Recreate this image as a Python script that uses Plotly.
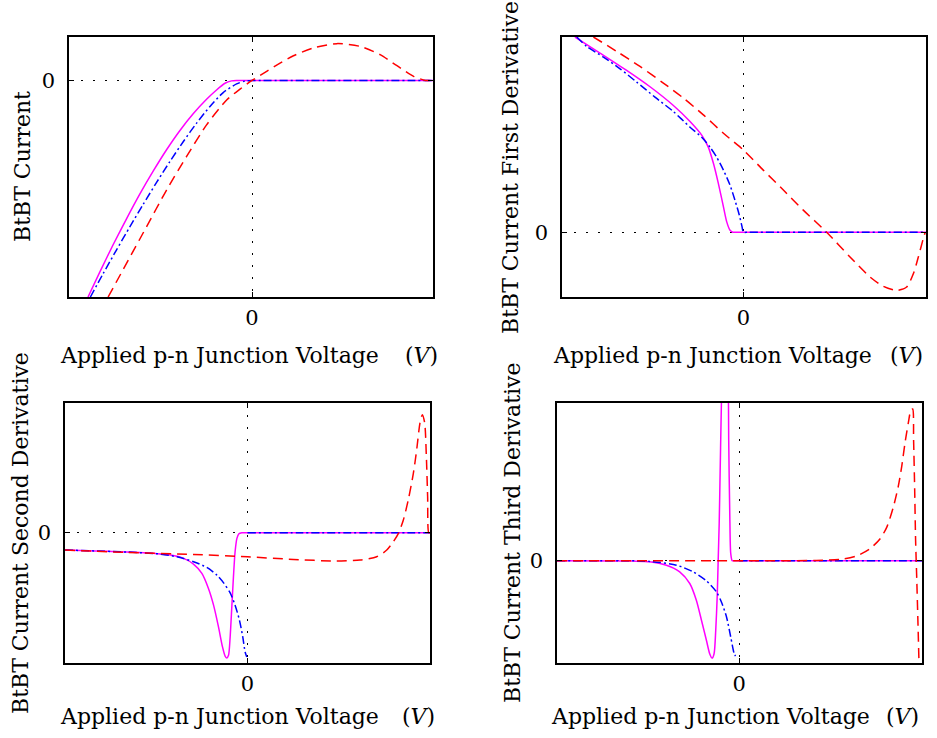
import plotly.graph_objects as go

# ---------------- data (normalised units) ----------------
# Panel 1: BtBT current
v1_mag = [-0.906, -0.841, -0.768, -0.694, -0.620, -0.546, -0.472, -0.399, -0.325, -0.251,
          -0.196, -0.149, -0.113, -0.085, -0.06, 0.0, 0.3, 1.0]
i1_mag = [-1.0, -0.885, -0.760, -0.640, -0.525, -0.419, -0.320, -0.232, -0.154, -0.087,
          -0.044, -0.013, -0.002, 0.0, 0.0, 0.0, 0.0, 0.0]
v1_blu = [-0.893, -0.823, -0.749, -0.675, -0.601, -0.528, -0.454, -0.380, -0.306, -0.232,
          -0.159, -0.085, -0.039, 0.0, 0.05, 0.3, 1.0]
i1_blu = [-1.0, -0.893, -0.783, -0.676, -0.572, -0.472, -0.375, -0.283, -0.197, -0.120,
          -0.056, -0.016, -0.003, 0.0, 0.0, 0.0, 0.0]
v1_red = [-0.795, -0.694, -0.583, -0.472, -0.362, -0.251, -0.140, -0.066, 0.0, 0.081,
          0.155, 0.229, 0.339, 0.469, 0.598, 0.708, 0.801, 0.893, 0.958, 0.98, 1.0]
i1_red = [-1.0, -0.846, -0.676, -0.506, -0.352, -0.205, -0.090, -0.040, 0.0, 0.042,
          0.080, 0.114, 0.150, 0.170, 0.157, 0.119, 0.068, 0.019, 0.0, 0.0, 0.0]

# Panel 2: first derivative
v2_mag = [-0.922, -0.785, -0.639, -0.511, -0.383, -0.292, -0.228, -0.192, -0.164, -0.137,
          -0.109, -0.091, -0.073, -0.058, -0.04, 0.0, 0.3, 1.0]
i2_mag = [1.0, 0.918, 0.829, 0.745, 0.649, 0.567, 0.497, 0.436, 0.353, 0.250,
          0.130, 0.053, 0.010, 0.0, 0.0, 0.0, 0.0, 0.0]
v2_blu = [-0.912, -0.858, -0.766, -0.675, -0.584, -0.484, -0.383, -0.292, -0.228, -0.182,
          -0.146, -0.109, -0.073, -0.046, -0.022, -0.007, 0.0, 0.03, 0.3, 1.0]
i2_blu = [1.0, 0.952, 0.897, 0.837, 0.769, 0.692, 0.618, 0.538, 0.486, 0.435,
          0.384, 0.318, 0.241, 0.164, 0.087, 0.027, 0.0, 0.0, 0.0, 0.0]
v2_red = [-0.821, -0.693, -0.566, -0.438, -0.328, -0.219, -0.109, 0.0, 0.109, 0.219,
          0.328, 0.456, 0.584, 0.693, 0.766, 0.839, 0.894, 0.931, 0.958, 0.985, 0.996]
i2_red = [1.0, 0.926, 0.849, 0.764, 0.687, 0.601, 0.507, 0.421, 0.318, 0.216,
          0.113, 0.0, -0.127, -0.229, -0.277, -0.298, -0.281, -0.212, -0.127, -0.033, 0.0]

# Panel 3: second derivative
v3_mag = [-1.0, -0.569, -0.423, -0.350, -0.296, -0.250, -0.214, -0.186, -0.159, -0.137,
          -0.122, -0.113, -0.104, -0.095, -0.086, -0.077, -0.068, -0.058, -0.047, -0.031,
          -0.015, 0.0, 0.3, 1.0]
i3_mag = [-0.134, -0.155, -0.173, -0.198, -0.242, -0.314, -0.430, -0.559, -0.727, -0.881,
          -0.954, -0.966, -0.946, -0.804, -0.572, -0.340, -0.147, -0.044, -0.008, 0.0,
          0.0, 0.0, 0.0, 0.0]
v3_blu = [-1.0, -0.661, -0.478, -0.387, -0.296, -0.223, -0.168, -0.131, -0.095, -0.068,
          -0.044, -0.026, -0.013, -0.004, None, 0.0, 0.3, 1.0]
i3_blu = [-0.134, -0.149, -0.165, -0.186, -0.224, -0.268, -0.327, -0.387, -0.464, -0.559,
          -0.675, -0.804, -0.920, -0.959, None, 0.0, 0.0, 0.0]
v3_red = [-1.0, -0.661, -0.296, 0.0, 0.252, 0.489, 0.617, 0.708, 0.763, 0.799,
          0.827, 0.854, 0.881, 0.909, 0.927, 0.945, 0.958, 0.971, 0.980, 0.987, 0.993, 1.0]
i3_red = [-0.134, -0.152, -0.168, -0.186, -0.206, -0.219, -0.211, -0.186, -0.134, -0.070,
          -0.005, 0.098, 0.253, 0.459, 0.639, 0.845, 0.910, 0.845, 0.588, 0.278, 0.0, 0.0]

# Panel 4: third derivative
v4_mag = [-0.996, -0.580, -0.489, -0.398, -0.325, -0.270, -0.234, -0.206, -0.179, -0.161,
          -0.148, -0.137, -0.128, -0.120, -0.115, -0.109, -0.104, -0.099, -0.093, -0.084,
          -0.069, -0.060, -0.057, -0.051, -0.046, -0.038, -0.03, 0.0, 0.3, 1.0]
i4_mag = [0.0, -0.002, -0.006, -0.028, -0.070, -0.144, -0.250, -0.377, -0.504, -0.589,
          -0.617, -0.589, -0.441, -0.229, -0.017, 0.237, 0.555, 0.873, 1.21, 1.5,
          1.5, 1.21, 0.767, 0.280, 0.047, 0.0, 0.0, 0.0, 0.0, 0.0]
v4_blu = [-0.996, -0.489, -0.343, -0.252, -0.179, -0.124, -0.097, -0.069, -0.046, -0.027,
          -0.020, None, 0.0, 0.3, 1.0]
i4_blu = [0.0, -0.004, -0.028, -0.070, -0.127, -0.197, -0.261, -0.356, -0.483, -0.589,
          -0.604, None, 0.0, 0.0, 0.0]
v4_red = [-0.996, 0.241, 0.423, 0.569, 0.642, 0.715, 0.770, 0.807, 0.843, 0.870,
          0.889, 0.907, 0.925, 0.940, 0.949, 0.954, 0.960, 0.965, 0.971, 0.978, 0.985, 0.99]
i4_red = [0.0, 0.0, 0.002, 0.011, 0.030, 0.076, 0.138, 0.212, 0.339, 0.470,
          0.597, 0.746, 0.873, 0.958, 0.962, 0.767, 0.449, 0.131, -0.102, -0.398, -0.716, -1.0]

y_titles = ["BtBT Current", "BtBT Current First Derivative",
            "BtBT Current Second Derivative", "BtBT Current Third Derivative"]
x_title = "Applied p-n Junction Voltage"
x_unit = "(<i>V</i>)"
tick_vals = [0]
tick_text = ["0"]

panels = [
    (v1_mag, i1_mag, v1_blu, i1_blu, v1_red, i1_red),
    (v2_mag, i2_mag, v2_blu, i2_blu, v2_red, i2_red),
    (v3_mag, i3_mag, v3_blu, i3_blu, v3_red, i3_red),
    (v4_mag, i4_mag, v4_blu, i4_blu, v4_red, i4_red),
]

# ---------------- layout geometry (pixels) ----------------
W, H = 937, 738
boxes = [(69, 433, 37, 297), (562, 926, 37, 297), (65, 430, 403, 663), (557, 922, 403, 663)]
x_ranges = [[-1.011, 1.0], [-0.993, 1.0], [-1.0, 1.0], [-0.996, 1.0]]
y_ranges = [[-1.0, 0.2006], [-0.332, 1.0], [-1.005, 1.0], [-0.648, 1.0]]
ylab_pos = [(23, 167), (511, 167), (20, 533), (512, 533)]
xlab_pos = [(58, 440, 355), (551, 925, 355), (58, 437, 716), (549, 921, 716)]

FONT = "DejaVu Serif"
fig = go.Figure()

line_mag = dict(color="#FF00FF", width=1.5)
line_blu = dict(color="#0000FF", width=1.5, dash="8px,3px,2px,3px")
line_red = dict(color="#FF0000", width=1.5, dash="10px,6px")

for k, (vm, im, vb, ib, vr, ir) in enumerate(panels):
    xa = "x" if k == 0 else f"x{k+1}"
    ya = "y" if k == 0 else f"y{k+1}"
    for vx, iy, ln in ((vm, im, line_mag), (vb, ib, line_blu), (vr, ir, line_red)):
        fig.add_trace(go.Scatter(x=vx, y=iy, mode="lines", xaxis=xa, yaxis=ya,
                                 line=dict(shape="spline", smoothing=0.7, **ln),
                                 connectgaps=False, showlegend=False, hoverinfo="skip"))
    x0, x1, y0, y1 = boxes[k]
    axis_common = dict(showline=True, linecolor="black", linewidth=1.5, mirror="ticks",
                       ticks="inside", ticklen=5, tickwidth=1, tickcolor="black",
                       showgrid=True, gridcolor="black", gridwidth=1, griddash="2px,10px",
                       zeroline=False, tickvals=tick_vals, ticktext=tick_text,
                       tickfont=dict(family=FONT, size=21, color="black"))
    xkey = "xaxis" if k == 0 else f"xaxis{k+1}"
    ykey = "yaxis" if k == 0 else f"yaxis{k+1}"
    fig.update_layout({
        xkey: dict(domain=[x0 / W, x1 / W], range=x_ranges[k], anchor=ya,
                   ticklabelstandoff=1, **axis_common),
        ykey: dict(domain=[1 - y1 / H, 1 - y0 / H], range=y_ranges[k], anchor=xa,
                   ticklabelstandoff=8, **axis_common),
    })
    lx, ly = ylab_pos[k]
    fig.add_annotation(text=y_titles[k], x=lx / W, y=1 - ly / H, xref="paper", yref="paper",
                       textangle=-90, showarrow=False, xanchor="center", yanchor="middle",
                       font=dict(family=FONT, size=22, color="black"))
    tl, tr, ty = xlab_pos[k]
    fig.add_annotation(text=x_title, x=tl / W, y=1 - ty / H, xref="paper", yref="paper",
                       showarrow=False, xanchor="left", yanchor="middle",
                       font=dict(family=FONT, size=22, color="black"))
    fig.add_annotation(text=x_unit, x=tr / W, y=1 - ty / H, xref="paper", yref="paper",
                       showarrow=False, xanchor="right", yanchor="middle",
                       font=dict(family=FONT, size=22, color="black"))

fig.update_layout(width=W, height=H, margin=dict(l=0, r=0, t=0, b=0),
                  paper_bgcolor="white", plot_bgcolor="white")

fig.write_html("out.html")
